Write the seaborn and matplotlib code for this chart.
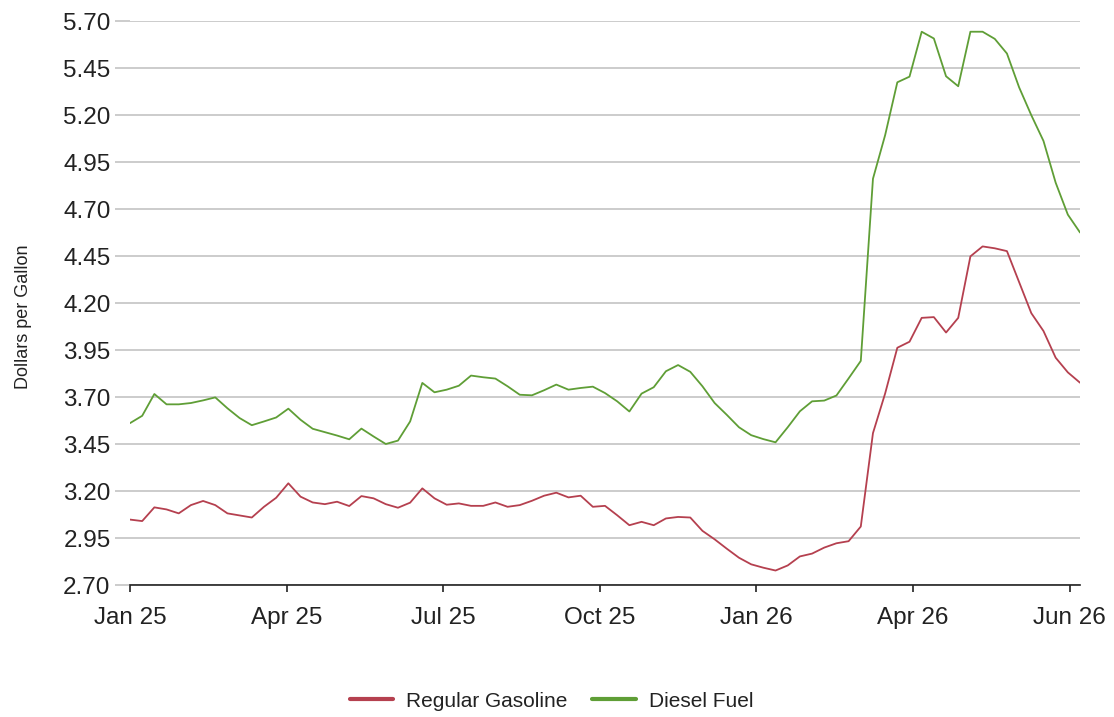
import matplotlib
matplotlib.use("Agg")
import matplotlib.pyplot as plt
import matplotlib.dates as mdates
import pandas as pd
import seaborn as sns

# Weekly retail prices, dollars per gallon
start_date = "2025-01-06"
n_weeks = 79

regular_gasoline = [
    3.048, 3.040, 3.113, 3.102, 3.081, 3.125, 3.147, 3.125, 3.081, 3.070,
    3.059, 3.116, 3.164, 3.241, 3.170, 3.139, 3.130, 3.143, 3.120, 3.173,
    3.161, 3.130, 3.111, 3.138, 3.214, 3.161, 3.127, 3.134, 3.121, 3.121,
    3.139, 3.116, 3.125, 3.148, 3.175, 3.191, 3.166, 3.175, 3.116, 3.121,
    3.071, 3.018, 3.036, 3.018, 3.054, 3.062, 3.059, 2.988, 2.943, 2.893,
    2.845, 2.810, 2.792, 2.777, 2.804, 2.852, 2.867, 2.899, 2.922, 2.933,
    3.011, 3.508, 3.719, 3.962, 3.994, 4.121, 4.125, 4.043, 4.121, 4.448,
    4.501, 4.491, 4.476, 4.311, 4.146, 4.051, 3.909, 3.831, 3.776,
]

diesel_fuel = [
    3.561, 3.600, 3.716, 3.661, 3.661, 3.668, 3.682, 3.698, 3.640, 3.588,
    3.550, 3.570, 3.591, 3.638, 3.579, 3.531, 3.513, 3.495, 3.475, 3.532,
    3.490, 3.450, 3.468, 3.570, 3.775, 3.725, 3.739, 3.760, 3.814, 3.805,
    3.798, 3.757, 3.712, 3.709, 3.736, 3.766, 3.739, 3.748, 3.755, 3.721,
    3.677, 3.623, 3.718, 3.752, 3.837, 3.870, 3.834, 3.757, 3.668, 3.605,
    3.539, 3.497, 3.476, 3.459, 3.539, 3.624, 3.677, 3.681, 3.708, 3.799,
    3.892, 4.861, 5.093, 5.374, 5.404, 5.643, 5.607, 5.406, 5.353, 5.643,
    5.643, 5.605, 5.527, 5.347, 5.199, 5.062, 4.840, 4.670, 4.575,
]

series_names = ["Regular Gasoline", "Diesel Fuel"]
series_colors = ["#b5404f", "#5f9e36"]

y_ticks = [2.70, 2.95, 3.20, 3.45, 3.70, 3.95, 4.20, 4.45, 4.70, 4.95, 5.20, 5.45, 5.70]

dates = pd.date_range(start_date, periods=n_weeks, freq="7D")
df = pd.concat([
    pd.DataFrame({"date": dates, "price": regular_gasoline, "series": series_names[0]}),
    pd.DataFrame({"date": dates, "price": diesel_fuel, "series": series_names[1]}),
])

sns.set_theme(style="white")
plt.rcParams["font.family"] = ["Liberation Sans", "DejaVu Sans"]

fig = plt.figure(figsize=(11.14, 7.17), dpi=100)
ax = fig.add_axes([0.1167, 0.1841, 0.8528, 0.7866])

sns.lineplot(data=df, x="date", y="price", hue="series",
             palette=dict(zip(series_names, series_colors)),
             linewidth=1.3, ax=ax, legend=False)

ax.set_xlim(dates[0], dates[-1])
ax.set_ylim(y_ticks[0], y_ticks[-1])
ax.set_yticks(y_ticks)
ax.set_yticklabels([f"{v:.2f}" for v in y_ticks])

tick_dates = pd.date_range(start_date, periods=7, freq="90D")
ax.set_xticks(tick_dates)
ax.xaxis.set_major_formatter(mdates.DateFormatter("%b %y"))

ax.grid(axis="y", color="#c4c4c4", linewidth=1.2)
ax.grid(axis="x", visible=False)
for side in ["left", "right", "top"]:
    ax.spines[side].set_visible(False)
ax.spines["bottom"].set_color("#222222")
ax.spines["bottom"].set_linewidth(1.2)

ax.tick_params(axis="y", length=11, width=1.2, color="#c4c4c4", pad=3,
               labelsize=17.5, labelcolor="#222222", left=True)
ax.tick_params(axis="x", length=5, width=1.2, color="#222222", pad=11,
               labelsize=17.5, labelcolor="#222222", bottom=True)

ax.set_xlabel("")
ax.set_ylabel("Dollars per Gallon", fontsize=13, color="#222222")
ax.yaxis.set_label_coords(-0.103, 0.475)

handles = [plt.Line2D([0], [0], color=c, linewidth=3) for c in series_colors]
fig.legend(handles, series_names, loc="center", ncol=2,
           bbox_to_anchor=(0.495, 0.022), frameon=False, fontsize=15,
           handlelength=2.1, handletextpad=0.6, columnspacing=1.2,
           labelcolor="#222222")

fig.savefig("out.png", dpi=100)
